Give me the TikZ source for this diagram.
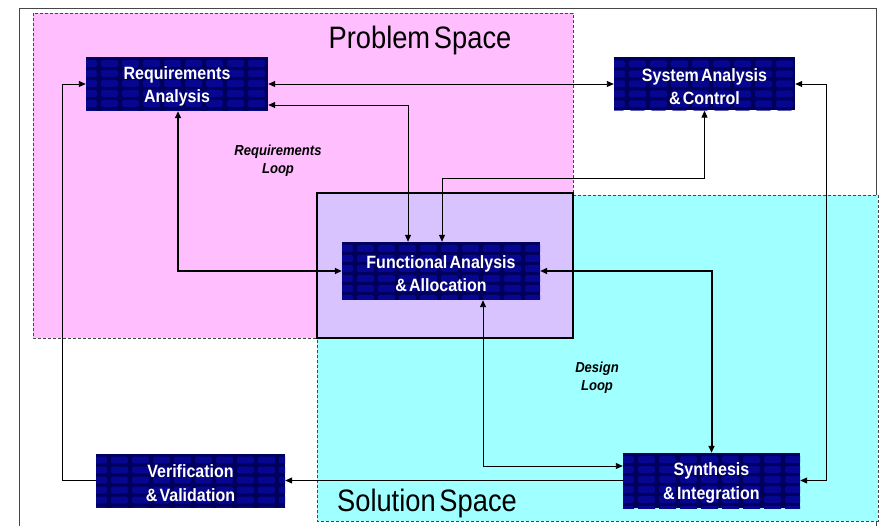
\documentclass[tikz,border=0pt]{standalone}
\usepackage{fontspec}
\usepackage{tikz}
\usetikzlibrary{arrows.meta}
\newfontfamily\boxfont[FakeStretch=0.9,WordSpace=0.5]{Liberation Sans}
\newfontfamily\spacefont[FakeStretch=0.88,WordSpace=0.5]{Liberation Sans}
\newcommand\tallstrut{\rule{0pt}{18pt}}
\definecolor{probpink}{RGB}{255,191,255}
\definecolor{solcyan}{RGB}{160,255,255}
\definecolor{funclav}{RGB}{217,195,255}
\definecolor{boxnavy}{RGB}{0,0,92}
\definecolor{boxbrick}{RGB}{6,6,145}
\definecolor{framegray}{RGB}{70,70,70}
\tikzset{
  block/.style={fill=boxnavy, text=white, align=center, inner sep=0pt,
    font=\boxfont\bfseries\fontsize{17.8}{23.5}\selectfont,
    path picture={
      \foreach \i in {0,...,10}
        \foreach \j in {0,...,5}
          \fill[boxbrick, rounded corners=2pt] ([xshift=\i*21pt-6pt,yshift=-\j*10pt-3pt]path picture bounding box.north west) rectangle ++(17pt,-7pt);
    }},
  looplabel/.style={align=center, font=\boxfont\bfseries\itshape\fontsize{14.5}{18.5}\selectfont},
  spacelabel/.style={font=\spacefont\fontsize{31}{34}\selectfont},
  region/.style={draw=framegray, dashed, dash pattern=on 3pt off 2pt, line width=0.7pt},
  link/.style={line width=0.9pt},
  biglink/.style={line width=2pt},
  >={Triangle[length=7pt,width=6pt]}
}
\begin{document}
\begin{tikzpicture}[x=1pt,y=-1pt]
\useasboundingbox (0,0) rectangle (881,526);
\draw[framegray, line width=0.8pt] (19,527) -- (19,8) -- (876,8) -- (876,527);

\fill[probpink] (33,13) rectangle (573,338);
\draw[region] (33,13) rectangle (573,338);
\fill[solcyan] (317,195) rectangle (878,521);
\draw[region] (317,195) rectangle (878,521);
\draw[fill=funclav, line width=2.6pt] (317,193) rectangle (573,338);

\node[spacelabel] (probspace) at (420,40) {Problem Space};
\node[spacelabel] (solspace) at (427,503) {Solution Space};
\node[looplabel] (reqloop) at (278,161) {Requirements\\Loop};
\node[looplabel] (desloop) at (597,378) {Design\\Loop};

\node[block, minimum width=182pt, minimum height=54pt] (reqan) at (177,84) {\tallstrut Requirements\\Analysis};
\node[block, minimum width=181pt, minimum height=53pt] (sysan) at (704.5,84) {\tallstrut System Analysis\\\& Control};
\node[block, minimum width=198pt, minimum height=58pt] (funcan) at (441,271) {\tallstrut Functional Analysis\\\& Allocation};
\node[block, minimum width=189pt, minimum height=54pt] (verval) at (190.5,480.5) {\tallstrut Verification\\\& Validation};
\node[block, minimum width=177pt, minimum height=55pt] (synint) at (711.5,480.5) {\tallstrut Synthesis\\\& Integration};

\draw[link, <->] (reqan.east) -- (sysan.west);
\draw[link, <->] ([yshift=-21pt]reqan.east) -| ([xshift=-33pt]funcan.north);
\draw[link, <->] ([xshift=1pt]funcan.north) -- ++(0,-63) -| (sysan.south);
\draw[biglink, <->] ([xshift=1pt]reqan.south) |- (funcan.west);
\draw[biglink, <->] (funcan.east) -| (synint.north);
\draw[link, <->] ([xshift=42pt]funcan.south) |- ([yshift=14.5pt]synint.west);
\draw[link, ->] (synint.west) -- (verval.east);
\draw[link, ->] (verval.west) -- ++(-33,0) |- (reqan.west);
\draw[link, <->] (sysan.east) -- ++(31,0) |- (synint.east);
\end{tikzpicture}
\end{document}
